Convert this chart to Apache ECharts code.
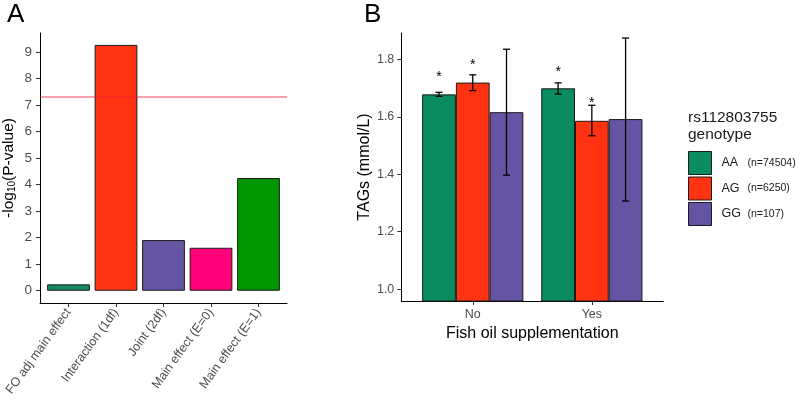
<!DOCTYPE html>
<html><head><meta charset="utf-8">
<script src="https://cdn.jsdelivr.net/npm/echarts@6/dist/echarts.min.js"></script>
<style>html,body{margin:0;padding:0;background:#fff}#c{width:800px;height:405px}</style>
</head><body><div id="c"></div>
<script>
// ---- Panel A data ----
const testNames = ['FO adj main effect', 'Interaction (1df)', 'Joint (2df)', 'Main effect (E=0)', 'Main effect (E=1)'];
const negLogP = [0.24, 9.27, 1.91, 1.62, 4.25];
const testColors = ['#178B61', '#FF3311', '#6655A4', '#FF0078', '#009600'];
const gwsThreshold = 7.3;
const yTicksA = [0, 1, 2, 3, 4, 5, 6, 7, 8, 9];

// ---- Panel B data ----
const fishOil = ['No', 'Yes'];
const genotypes = ['AA', 'AG', 'GG'];
const genotypeN = ['(n=74504)', '(n=6250)', '(n=107)'];
const genoColors = ['#0A8D5E', '#FF3311', '#6554A4'];
const meanAA = [1.678, 1.699];
const meanAG = [1.719, 1.586];
const meanGG = [1.616, 1.592];
const lowAA = [1.671, 1.679];
const lowAG = [1.691, 1.534];
const lowGG = [1.397, 1.307];
const highAA = [1.685, 1.718];
const highAG = [1.746, 1.640];
const highGG = [1.835, 1.874];
const starAA = [1.749, 1.766];
const starAG = [1.790, 1.658];
const starGG = [null, null];
const yTicksB = [1.0, 1.2, 1.4, 1.6, 1.8];

const FONT = '"Liberation Sans", Arial, sans-serif';
const means = [meanAA, meanAG, meanGG];
const lows = [lowAA, lowAG, lowGG];
const highs = [highAA, highAG, highGG];
const stars = [starAA, starAG, starGG];
const groupW = 0.85;

const axisCommon = {
  axisLine: { onZero: false, lineStyle: { color: '#000', width: 1 } },
  axisTick: { length: 4, lineStyle: { color: '#333', width: 1 } },
  splitLine: { show: false }
};

const errData = [], starData = [];
genotypes.forEach((g, gi) => {
  fishOil.forEach((f, i) => {
    errData.push([i + 1, lows[gi][i], highs[gi][i], gi]);
    if (stars[gi][i] != null) starData.push([i + 1, stars[gi][i], gi]);
  });
});

const series = [
  {
    type: 'bar', xAxisIndex: 0, yAxisIndex: 0, barWidth: '90%',
    data: negLogP.map((v, i) => ({ value: [i + 1, v], itemStyle: { color: testColors[i] } })),
    itemStyle: { borderColor: '#1a1a1a', borderWidth: 1 },
    markLine: {
      silent: true, symbol: ['none', 'none'], label: { show: false },
      lineStyle: { color: 'rgba(235,30,55,0.55)', width: 1.6, type: 'solid' },
      data: [{ yAxis: gwsThreshold }]
    }
  }
];
genotypes.forEach((g, gi) => {
  series.push({
    type: 'bar', name: g, xAxisIndex: 1, yAxisIndex: 1,
    barWidth: (groupW / 3 * 100).toFixed(2) + '%', barGap: '0%',
    data: means[gi].map((v, i) => [i + 1, v]),
    itemStyle: { color: genoColors[gi], borderColor: '#1a1a1a', borderWidth: 1 }
  });
});
series.push({
  type: 'custom', xAxisIndex: 1, yAxisIndex: 1, z: 5, silent: true,
  data: errData,
  renderItem: function (params, api) {
    const x = api.value(0) + (api.value(3) - 1) * groupW / 3;
    const t = api.coord([x, api.value(2)]);
    const b = api.coord([x, api.value(1)]);
    const cap = 3.5;
    const st = { stroke: '#000', lineWidth: 1.3 };
    return { type: 'group', children: [
      { type: 'line', shape: { x1: t[0], y1: t[1], x2: b[0], y2: b[1] }, style: st },
      { type: 'line', shape: { x1: t[0] - cap, y1: t[1], x2: t[0] + cap, y2: t[1] }, style: st },
      { type: 'line', shape: { x1: b[0] - cap, y1: b[1], x2: b[0] + cap, y2: b[1] }, style: st }
    ]};
  }
});
series.push({
  type: 'custom', xAxisIndex: 1, yAxisIndex: 1, z: 5, silent: true,
  data: starData,
  renderItem: function (params, api) {
    const x = api.value(0) + (api.value(2) - 1) * groupW / 3;
    const p = api.coord([x, api.value(1)]);
    return { type: 'text', style: { text: '*', x: p[0], y: p[1] + 3, align: 'center', verticalAlign: 'middle',
      fontSize: 14, fontFamily: FONT, fill: '#000' } };
  }
});

const option = {
  animation: false,
  textStyle: { fontFamily: FONT },
  title: [
    { text: 'A', left: 7, top: 2, padding: 0, textStyle: { fontSize: 26, fontWeight: 'normal', color: '#000', fontFamily: FONT } },
    { text: 'B', left: 364, top: 2, padding: 0, textStyle: { fontSize: 26, fontWeight: 'normal', color: '#000', fontFamily: FONT } },
    { text: 'rs112803755\ngenotype', left: 688, top: 109, padding: 0,
      textStyle: { fontSize: 15.5, fontWeight: 'normal', lineHeight: 17, color: '#1a1a1a', fontFamily: FONT } }
  ],
  legend: {
    data: genotypes, orient: 'vertical', left: 688, top: 151, padding: 0,
    itemWidth: 23, itemHeight: 23, itemGap: 1.5, icon: 'rect', selectedMode: false,
    itemStyle: { borderColor: '#1a1a1a', borderWidth: 1 },
    formatter: name => '{g|' + name + '}{n|' + genotypeN[genotypes.indexOf(name)] + '}',
    textStyle: { rich: {
      g: { fontSize: 12.5, width: 26, padding: [0, 0, 0, 5], color: '#1a1a1a', fontFamily: FONT },
      n: { fontSize: 10.5, color: '#1a1a1a', fontFamily: FONT }
    } }
  },
  grid: [
    { left: 40, top: 33, width: 247, height: 270 },
    { left: 401.3, top: 33, width: 262, height: 268 }
  ],
  xAxis: [
    Object.assign({}, axisCommon, {
      type: 'value', gridIndex: 0, min: 0.4, max: 5.6,
      axisTick: Object.assign({}, axisCommon.axisTick, { customValues: testNames.map((n, i) => i + 1) }),
      axisLabel: { customValues: testNames.map((n, i) => i + 1), formatter: v => testNames[Math.round(v) - 1],
        rotate: 54, margin: 7, fontSize: 12.5, color: '#4D4D4D', fontFamily: FONT }
    }),
    Object.assign({}, axisCommon, {
      type: 'value', gridIndex: 1, min: 0.4, max: 2.6,
      axisTick: Object.assign({}, axisCommon.axisTick, { customValues: fishOil.map((n, i) => i + 1) }),
      axisLabel: { customValues: fishOil.map((n, i) => i + 1), formatter: v => fishOil[Math.round(v) - 1],
        margin: 7, fontSize: 12.5, color: '#4D4D4D', fontFamily: FONT },
      name: 'Fish oil supplementation', nameLocation: 'middle', nameGap: 21,
      nameTextStyle: { fontSize: 16, color: '#000', fontFamily: FONT }
    })
  ],
  yAxis: [
    Object.assign({}, axisCommon, {
      type: 'value', gridIndex: 0, min: -0.463, max: 9.72,
      axisTick: Object.assign({}, axisCommon.axisTick, { customValues: yTicksA }),
      axisLabel: { customValues: yTicksA, margin: 8, fontSize: 13.5, color: '#4D4D4D', fontFamily: FONT },
      name: '-log{s|10}(P-value)', nameLocation: 'middle', nameGap: 23,
      nameTextStyle: { fontSize: 15.5, color: '#000', fontFamily: FONT,
        rich: { s: { fontSize: 10, verticalAlign: 'bottom', lineHeight: 10, padding: [6, 0, 0, 0], color: '#000', fontFamily: FONT } } }
    }),
    Object.assign({}, axisCommon, {
      type: 'value', gridIndex: 1, min: 0.959, max: 1.8915,
      axisTick: Object.assign({}, axisCommon.axisTick, { customValues: yTicksB }),
      axisLabel: { customValues: yTicksB, formatter: v => v.toFixed(1), margin: 7, fontSize: 12.5, color: '#4D4D4D', fontFamily: FONT },
      name: 'TAGs (mmol/L)', nameLocation: 'middle', nameGap: 28,
      nameTextStyle: { fontSize: 16, color: '#000', fontFamily: FONT }
    })
  ],
  series: series
};
const chart = echarts.init(document.getElementById('c'), null, { renderer: 'canvas' });
chart.setOption(option);
</script></body></html>
